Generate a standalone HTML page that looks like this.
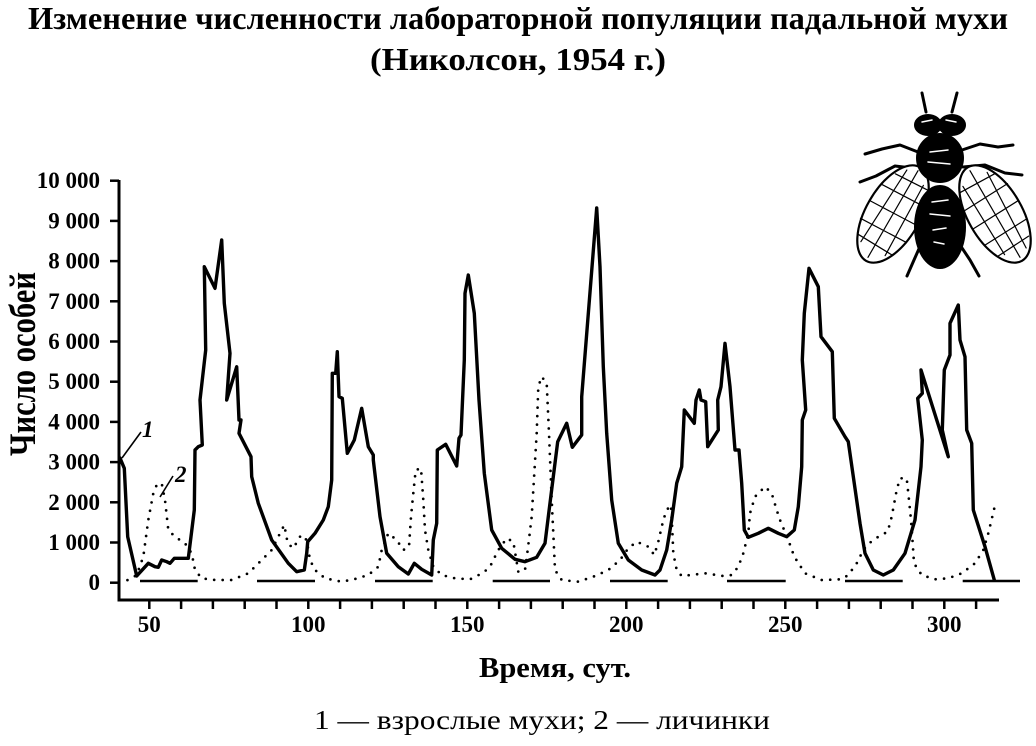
<!DOCTYPE html>
<html><head><meta charset="utf-8"><style>
html,body{margin:0;padding:0;background:#fff;}
svg{display:block;}
text{font-family:"Liberation Serif","DejaVu Serif",serif;fill:#000;}
</style></head><body>
<svg width="1036" height="746" viewBox="0 0 1036 746" xmlns="http://www.w3.org/2000/svg" font-family="'Liberation Serif', 'DejaVu Serif', serif">
<rect width="1036" height="746" fill="#fff"/>
<!-- Title -->
<text x="28" y="29" font-family="'Liberation Serif', serif" font-size="32" font-weight="bold" textLength="980" lengthAdjust="spacingAndGlyphs">Изменение численности лабораторной популяции падальной мухи</text>
<text x="370" y="70" font-family="'Liberation Serif', serif" font-size="32" font-weight="bold" textLength="296" lengthAdjust="spacingAndGlyphs">(Николсон, 1954 г.)</text>

<!-- Fly -->
<g stroke="#000" stroke-linecap="round" stroke-linejoin="round" fill="none">
  <path d="M922,93 L926,112" stroke-width="3"/>
  <path d="M957,93 L952,112" stroke-width="3"/>
  <path d="M918,152 L900,145 L882,149 L865,154" stroke-width="3"/>
  <path d="M920,169 L895,166 L876,176 L860,182" stroke-width="3"/>
  <path d="M962,150 L980,144 L998,147 L1013,145" stroke-width="3"/>
  <path d="M963,167 L985,165 L1005,173 L1022,175" stroke-width="3"/>
  <path d="M922,242 L914,260 L907,276" stroke-width="3"/>
  <path d="M958,242 L970,260 L979,276" stroke-width="3"/>
  <g transform="translate(893,214) rotate(-60)">
    <ellipse cx="0" cy="0" rx="54" ry="27" fill="#fff" stroke-width="2.2"/>
    <path d="M-50,0 L50,0 M-40,-14 L45,-10 M-40,14 L40,12 M-20,-26 L-18,26 M0,-27 L2,27 M20,-25 L22,25 M36,-18 L38,18 M-35,-20 L-36,20" stroke-width="1.2"/>
  </g>
  <g transform="translate(995,214) rotate(60)">
    <ellipse cx="0" cy="0" rx="54" ry="27" fill="#fff" stroke-width="2.2"/>
    <path d="M-50,0 L50,0 M-40,-14 L45,-10 M-40,14 L40,12 M-20,-26 L-18,26 M0,-27 L2,27 M20,-25 L22,25 M36,-18 L38,18 M-35,-20 L-36,20" stroke-width="1.2"/>
  </g>
  <ellipse cx="940" cy="227" rx="26" ry="42" fill="#000" stroke="none"/>
  <ellipse cx="940" cy="158" rx="24" ry="25" fill="#000" stroke="none"/>
  <ellipse cx="928" cy="125" rx="14" ry="11" fill="#000" stroke="none"/>
  <ellipse cx="952" cy="125" rx="14" ry="11" fill="#000" stroke="none"/>
  <path d="M922,122 L932,120 M946,120 L956,122 M930,152 L948,150 M928,162 L950,164 M932,202 L948,200 M930,214 L950,216 M933,230 L946,228 M934,242 L944,244" stroke="#fff" stroke-width="1.5"/>
</g>

<!-- Axes -->
<g stroke="#000" stroke-width="3" fill="none">
  <path d="M119,180 L119,600 L999,600"/>
</g>
<g stroke="#000" stroke-width="2.5">
  <line x1="110" y1="582.7" x2="119" y2="582.7"/>
  <line x1="110" y1="542.5" x2="119" y2="542.5"/>
  <line x1="110" y1="502.3" x2="119" y2="502.3"/>
  <line x1="110" y1="462.1" x2="119" y2="462.1"/>
  <line x1="110" y1="421.9" x2="119" y2="421.9"/>
  <line x1="110" y1="381.7" x2="119" y2="381.7"/>
  <line x1="110" y1="341.5" x2="119" y2="341.5"/>
  <line x1="110" y1="301.3" x2="119" y2="301.3"/>
  <line x1="110" y1="261.1" x2="119" y2="261.1"/>
  <line x1="110" y1="220.9" x2="119" y2="220.9"/>
  <line x1="110" y1="180.7" x2="119" y2="180.7"/>
</g>
<g stroke="#000" stroke-width="2.5">
  <line x1="149.3" y1="600" x2="149.3" y2="609"/>
  <line x1="181.1" y1="600" x2="181.1" y2="609"/>
  <line x1="212.9" y1="600" x2="212.9" y2="609"/>
  <line x1="244.7" y1="600" x2="244.7" y2="609"/>
  <line x1="276.5" y1="600" x2="276.5" y2="609"/>
  <line x1="308.3" y1="600" x2="308.3" y2="609"/>
  <line x1="340.1" y1="600" x2="340.1" y2="609"/>
  <line x1="371.9" y1="600" x2="371.9" y2="609"/>
  <line x1="403.7" y1="600" x2="403.7" y2="609"/>
  <line x1="435.5" y1="600" x2="435.5" y2="609"/>
  <line x1="467.3" y1="600" x2="467.3" y2="609"/>
  <line x1="499.1" y1="600" x2="499.1" y2="609"/>
  <line x1="530.9" y1="600" x2="530.9" y2="609"/>
  <line x1="562.7" y1="600" x2="562.7" y2="609"/>
  <line x1="594.5" y1="600" x2="594.5" y2="609"/>
  <line x1="626.3" y1="600" x2="626.3" y2="609"/>
  <line x1="658.1" y1="600" x2="658.1" y2="609"/>
  <line x1="689.9" y1="600" x2="689.9" y2="609"/>
  <line x1="721.7" y1="600" x2="721.7" y2="609"/>
  <line x1="753.5" y1="600" x2="753.5" y2="609"/>
  <line x1="785.3" y1="600" x2="785.3" y2="609"/>
  <line x1="817.1" y1="600" x2="817.1" y2="609"/>
  <line x1="848.9" y1="600" x2="848.9" y2="609"/>
  <line x1="880.7" y1="600" x2="880.7" y2="609"/>
  <line x1="912.5" y1="600" x2="912.5" y2="609"/>
  <line x1="944.3" y1="600" x2="944.3" y2="609"/>
  <line x1="976.1" y1="600" x2="976.1" y2="609"/>
</g>

<!-- Y tick labels -->
<g font-family="'Liberation Serif', serif" font-size="23" font-weight="bold" text-anchor="end">
  <text x="100" y="590.2">0</text>
  <text x="100" y="550">1 000</text>
  <text x="100" y="509.8">2 000</text>
  <text x="100" y="469.6">3 000</text>
  <text x="100" y="429.4">4 000</text>
  <text x="100" y="389.2">5 000</text>
  <text x="100" y="349">6 000</text>
  <text x="100" y="308.8">7 000</text>
  <text x="100" y="268.6">8 000</text>
  <text x="100" y="228.4">9 000</text>
  <text x="100" y="188.2">10 000</text>
</g>
<!-- X tick labels -->
<g font-family="'Liberation Serif', serif" font-size="23" font-weight="bold" text-anchor="middle">
  <text x="149.3" y="632">50</text>
  <text x="308.3" y="632">100</text>
  <text x="467.3" y="632">150</text>
  <text x="626.3" y="632">200</text>
  <text x="785.3" y="632">250</text>
  <text x="944.3" y="632">300</text>
</g>

<!-- Axis titles -->
<text transform="translate(35,364) rotate(-90)" font-family="'Liberation Serif', serif" font-size="37" font-weight="bold" text-anchor="middle" textLength="184" lengthAdjust="spacingAndGlyphs">Число особей</text>
<text x="479" y="677" font-family="'Liberation Serif', serif" font-size="28" font-weight="bold" textLength="152" lengthAdjust="spacingAndGlyphs">Время, сут.</text>
<text x="314" y="729" font-family="'Liberation Serif', serif" font-size="27" textLength="456" lengthAdjust="spacingAndGlyphs">1 — взрослые мухи; 2 — личинки</text>

<!-- Baseline dashes -->
<g stroke="#000" stroke-width="2.5">
  <line x1="140" y1="581" x2="197.7" y2="581"/>
  <line x1="257" y1="581" x2="315" y2="581"/>
  <line x1="375" y1="581" x2="432.7" y2="581"/>
  <line x1="492.7" y1="581" x2="550" y2="581"/>
  <line x1="610" y1="581" x2="667.7" y2="581"/>
  <line x1="727" y1="581" x2="785.7" y2="581"/>
  <line x1="845" y1="581" x2="902.7" y2="581"/>
  <line x1="962.7" y1="581" x2="1020" y2="581"/>
</g>

<!-- Larvae (dotted) -->
<path fill="none" stroke="#000" stroke-width="2.7" stroke-linecap="round" stroke-dasharray="0 8.5"
d="M119,581 L128.3,580 L136.7,575 L143.3,556.7 L148.3,520 L153.3,493.3 L156.7,485 L161.7,483.3 L165,500 L168.3,530 L175,536.7 L185,543.3 L191.7,553.3 L195,570 L201.7,578.3 L215,580 L231.7,580 L248.3,573.3 L261.7,560 L271.7,550 L280,533.3 L284.3,525 L287.7,543.3 L293.3,548.3 L301,535 L306.7,540 L310,560 L315,570 L325,578.3 L341.7,581.7 L355,579 L368.3,575 L378.3,566.7 L381.7,550 L388.3,533.3 L396.7,540 L403.3,550 L409,546.7 L411,516.7 L413.3,493.3 L415.7,470 L421,468.3 L423.3,500 L425,530 L428.3,550 L433.3,566.7 L441.7,575 L455,578.3 L470,579.3 L483.3,572.7 L490,566.7 L498.3,550 L506.7,538.3 L513.3,541.7 L518.3,571.7 L525,570 L527.7,550 L531.7,516.7 L536.7,433.3 L538.3,386.7 L541.7,376.7 L546.7,383.3 L549,433.3 L551.7,500 L553.3,533.3 L555,570 L561.7,580 L578.3,581.7 L595,576 L608.3,570 L620,560 L628.3,548.3 L636.7,541.7 L648.3,546.7 L654.3,555 L658.3,541.7 L663.3,520 L666.7,510 L671,505 L672.3,530 L673.3,553.3 L676.7,570 L681.7,576 L705,573.3 L723.3,576 L731.7,575 L738.3,566.7 L743.3,553.3 L748.3,533.3 L750,513.3 L755,496.7 L765,486.7 L771.7,493.3 L776.7,510 L780,520 L788.3,540 L794.3,556.7 L805,573.3 L821.7,580 L841.7,579.3 L848.3,575 L856.7,563.3 L861.7,553.3 L866.7,545 L878.3,536.7 L887.7,531.7 L891.7,516.7 L896.7,490 L900,478.3 L906.7,478.3 L909,500 L911,520 L912.7,543.3 L914,563.3 L921.7,575 L935,579.3 L948.3,578.3 L961.7,573.3 L975,563.3 L983.3,550 L988.3,533.3 L994.3,508.3"/>

<!-- Adults (solid) -->
<path fill="none" stroke="#000" stroke-width="3.4" stroke-linejoin="round" stroke-linecap="round"
d="M120,458 L124.3,468.3 L127.7,536.7 L136.7,576 L148.3,563.3 L155,566.7 L158.3,567.3 L161.7,560 L166.7,561.7 L170,563.3 L174.3,558.3 L188.3,558.3 L194.3,510 L195,450 L198.3,446.7 L202.3,445 L200,400 L205.7,350 L204.3,266.7 L215,288.3 L221.7,240 L224.3,303.3 L230,353.3 L226.7,400 L236.7,366.7 L239,420 L241,420 L239,433.3 L251,456.7 L251.7,476.7 L258.3,503.3 L271.7,540 L288.3,563.3 L296.7,571.7 L304.3,570 L306.7,553.3 L307.7,541.7 L315,533.3 L323.3,520 L328.3,506.7 L331.7,480 L332.3,373.3 L335.7,373.3 L337.3,351.7 L339,396.7 L342.3,398.3 L347.3,453.3 L354.3,440 L361.7,408.3 L368.3,446.7 L373.3,455 L373.3,460 L380,516.7 L386.7,553.3 L398.3,566.7 L408.3,574 L414.3,563.3 L421.7,569.3 L431.7,575 L433.3,540 L436.7,523.3 L437.3,450 L445.7,444.3 L456.7,466 L459,438.3 L461,435 L464.3,360 L465,293.3 L468.3,275 L474.3,313.3 L479,400 L484.3,473.3 L491.7,530 L501.7,548.3 L515,559.3 L525,561.7 L536.7,557.3 L545,543.3 L548.3,516.7 L553.3,476.7 L557.7,441.7 L566.7,423.3 L572.3,447.3 L581.7,435 L581.7,396.7 L596.7,208 L600,266.7 L603.3,366.7 L606.7,433.3 L611.7,500 L618.3,543.3 L628.3,560 L641.7,570 L655,575 L660,570 L666.7,550 L671.7,520 L676.7,483.3 L681.7,466.7 L684.3,410 L694.3,423.3 L696,400 L699.3,390 L701,400 L705.7,401.7 L707.7,446.7 L718.3,430 L717.7,400 L721,386.7 L725,343.3 L730,386.7 L735,450 L739,450 L741.7,483.3 L744.3,530 L748.3,537.3 L758.3,533.3 L768.3,528.3 L778.3,533.3 L786.7,536.7 L794.3,530 L798.3,506.7 L801.7,466.7 L802.3,420 L805.7,410 L802.3,360 L804.3,313.3 L809,268.3 L818.3,286.7 L821,336.7 L832.3,351.7 L834.3,418.3 L845,436.7 L848.3,441.7 L860,523.3 L865,553.3 L873.3,570 L883.3,575 L893.3,570 L905,553.3 L915,520 L921,466.7 L922.3,440 L917.7,398.3 L922.3,393.3 L921,370 L948.3,456.7 L942.3,430 L944.3,370 L950,355 L950,323.3 L958.3,305 L960,340 L965,356.7 L966.7,430 L971.7,443.3 L973.3,510 L985,546.7 L994.3,580"/>

<!-- Curve labels -->
<g stroke="#000" stroke-width="1.6">
  <line x1="122" y1="458" x2="141" y2="432"/>
  <line x1="160" y1="497" x2="173" y2="476"/>
</g>
<text x="142" y="437" font-family="'Liberation Serif', serif" font-size="23" font-style="italic" font-weight="bold">1</text>
<text x="175" y="482" font-family="'Liberation Serif', serif" font-size="23" font-style="italic" font-weight="bold">2</text>
</svg>
</body></html>
